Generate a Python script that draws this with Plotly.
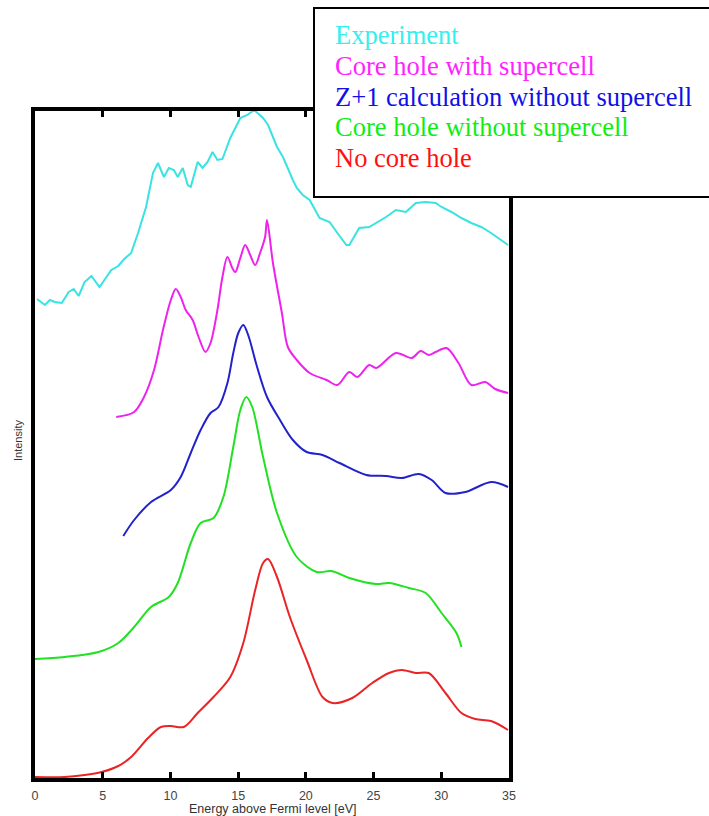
import plotly.graph_objects as go

# ---------------- data (energy in eV, intensity in arbitrary offset units) -------------
exp_x = [0.15, 0.73, 1.10, 1.46, 1.98, 2.49, 2.86, 3.22, 3.66, 4.17, 4.76, 5.13, 5.64, 6.15,
         6.59, 7.10, 7.61, 8.20, 8.71, 9.08, 9.52, 9.88, 10.25, 10.54, 10.91, 11.28, 11.50,
         12.01, 12.37, 12.74, 13.11, 13.47, 13.84, 14.42, 15.16, 15.67, 16.18, 16.84, 17.21,
         17.87, 18.31, 19.04, 19.33, 19.77, 20.28, 21.01, 21.75, 22.33, 22.99, 23.21, 23.94,
         24.68, 25.19, 25.92, 26.65, 27.39, 28.12, 28.85, 29.58, 30.02, 30.75, 31.49, 32.22,
         32.95, 33.68, 34.42, 34.93]
exp_y = [481, 475, 480, 478, 477, 488, 491, 484, 498, 504, 493, 500, 510, 514,
         521, 527, 547, 573, 607, 617, 603, 612, 610, 603, 612, 595, 593,
         618, 612, 618, 628, 620, 621, 642, 662, 665, 670, 662, 655,
         633, 623, 600, 592, 585, 580, 562, 558, 547, 535, 535, 552,
         553, 557, 563, 570, 568, 577, 578, 577, 573, 568, 562, 557,
         553, 547, 540, 535]

chs_x = [6.00, 7.32, 8.05, 8.79, 9.45, 10.03, 10.40, 10.76, 11.13, 11.64, 12.08, 12.59, 12.96,
         13.47, 13.84, 14.21, 14.57, 14.79, 15.16, 15.52, 15.89, 16.26, 16.62, 16.99, 17.13,
         17.57, 18.23, 18.67, 19.33, 20.28, 21.53, 22.33, 23.21, 23.80, 24.68, 25.19, 26.65,
         27.82, 28.48, 29.07, 29.58, 30.39, 31.27, 32.22, 33.24, 33.98, 34.93]
chs_y = [363, 368, 383, 410, 450, 480, 491, 483, 470, 460, 443, 428, 437,
         470, 503, 523, 512, 508, 522, 535, 525, 515, 527, 543, 560,
         517, 467, 433, 420, 407, 400, 395, 408, 403, 415, 412, 427,
         422, 429, 425, 428, 432, 417, 395, 398, 391, 387]

z1_x = [6.52, 7.32, 8.57, 10.03, 10.76, 11.50, 12.23, 12.96, 13.55, 14.21, 14.64, 15.01, 15.38,
        15.74, 16.40, 17.13, 18.09, 19.04, 20.06, 21.23, 22.48, 24.46, 25.92, 27.09, 28.34,
        29.29, 30.31, 31.78, 33.68, 34.93]
z1_y = [244, 260, 278, 290, 303, 327, 350, 367, 373, 397, 427, 447, 455,
        445, 413, 383, 360, 340, 328, 325, 317, 305, 304, 302, 306,
        300, 287, 288, 298, 293]

chn_x = [0.00, 2.20, 4.69, 6.15, 7.32, 8.57, 9.88, 10.54, 11.50, 12.23, 13.18, 13.91, 14.64,
         15.16, 15.60, 16.04, 16.84, 17.87, 19.33, 20.80, 21.89, 23.21, 25.19, 26.14, 27.61,
         28.85, 30.02, 31.12, 31.49]
chn_y = [121, 123, 128, 137, 153, 173, 183, 197, 237, 257, 262, 283, 333,
         370, 383, 373, 323, 267, 223, 208, 209, 202, 196, 197, 192,
         187, 167, 147, 133]

nch_x = [0.00, 2.20, 3.66, 4.91, 6.15, 7.10, 8.35, 9.30, 10.03, 10.98, 12.01, 13.18, 14.42,
         15.38, 16.26, 16.84, 17.21, 17.87, 18.82, 20.06, 21.23, 21.97, 23.43, 24.90, 26.14,
         27.09, 28.12, 29.07, 30.31, 31.49, 32.51, 33.68, 34.93]
nch_y = [3, 3, 5, 8, 14, 23, 42, 53, 54, 53, 67, 83, 103,
         137, 190, 217, 221, 203, 163, 120, 83, 77, 82, 97, 107,
         110, 107, 107, 87, 67, 61, 59, 50]

names = ["Experiment", "Core hole with supercell", "Z+1 calculation without supercell",
         "Core hole without supercell", "No core hole"]
line_colors = ["#3ae2e2", "#ee22ee", "#2222cc", "#22e022", "#ea2424"]
text_colors = ["#33f0f0", "#ff22ff", "#1010e8", "#10ee10", "#ff1010"]

x_ticks = [0, 5, 10, 15, 20, 25, 30, 35]

# ---------------- figure ----------------
W, H = 709, 816
L, R, T, B = 35, 200, 111, 38
PW, PH = W - L - R, H - T - B


def px(xp):
    return (xp - L) / PW


def py(yp):
    return (H - B - yp) / PH


fig = go.Figure()
series = [(exp_x, exp_y, "linear"), (chs_x, chs_y, "spline"), (z1_x, z1_y, "spline"),
          (chn_x, chn_y, "spline"), (nch_x, nch_y, "spline")]
for (xs, ys, shp), nm, col in zip(series, names, line_colors):
    fig.add_trace(go.Scatter(x=xs, y=ys, mode="lines", name=nm,
                             line=dict(color=col, width=2, shape=shp,
                                       smoothing=0.9 if shp == "spline" else None)))

fig.update_layout(
    width=W, height=H,
    margin=dict(l=L, r=R, t=T, b=B, autoexpand=False),
    paper_bgcolor="white", plot_bgcolor="white",
    showlegend=False,
    font=dict(family="Liberation Sans", color="#333333"),
)
fig.update_xaxes(range=[0, 35], tickvals=x_ticks, ticktext=[str(t) for t in x_ticks],
                 ticks="inside", ticklen=6, tickwidth=3, tickcolor="black",
                 showline=True, linecolor="black", linewidth=4, mirror="ticks",
                 showgrid=False, zeroline=False, automargin=False, ticklabelstandoff=3,
                 tickfont=dict(size=12.5, color="#444444"))
fig.update_yaxes(range=[2, 669], showticklabels=False, ticks="",
                 showline=True, linecolor="black", linewidth=4, mirror=True,
                 showgrid=False, zeroline=False, automargin=False)

# axis titles
fig.add_annotation(xref="paper", yref="paper", x=px(272), y=py(809),
                   xanchor="center", yanchor="middle", showarrow=False,
                   text="Energy above Fermi level [eV]",
                   font=dict(family="Liberation Sans", size=12.5, color="#333333"))
fig.add_annotation(xref="paper", yref="paper", x=px(18), y=py(441),
                   xanchor="center", yanchor="middle", showarrow=False, textangle=-90,
                   text="Intensity",
                   font=dict(family="Liberation Sans", size=11, color="#333333"))

# legend box (drawn above the axes frame)
fig.add_shape(type="rect", xref="paper", yref="paper",
              x0=px(314), x1=px(712), y0=py(197), y1=py(8),
              line=dict(color="black", width=2), fillcolor="white", layer="above")

SERIF = "Times New Roman, Liberation Serif, serif"
for i, (nm, col) in enumerate(zip(names, text_colors)):
    fig.add_annotation(xref="paper", yref="paper",
                       x=px(333), y=py(35 + i * 30.8),
                       xanchor="left", yanchor="middle", showarrow=False,
                       text=nm, font=dict(family=SERIF, size=26.5, color=col))

fig.write_html("out.html")
